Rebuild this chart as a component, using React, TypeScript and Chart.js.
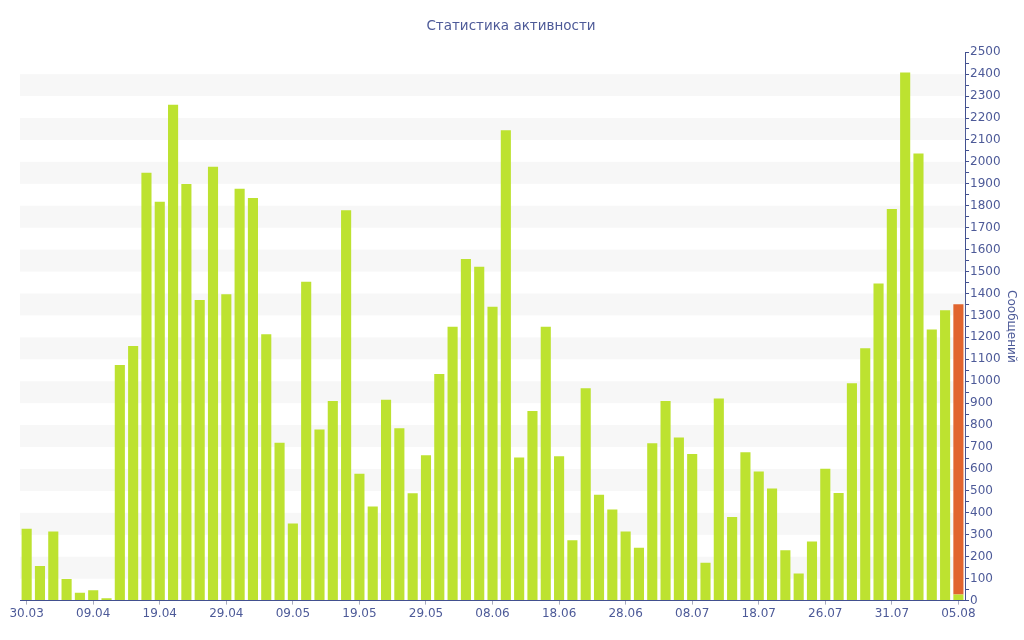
import React, { useEffect, useRef } from "react";
import { Chart, registerables } from "chart.js";

Chart.register(...registerables);

const tickLabels = [
  "30.03", "09.04", "19.04", "29.04", "09.05", "19.05", "29.05", "08.06",
  "18.06", "28.06", "08.07", "18.07", "26.07", "31.07", "05.08",
];

const greenValues = [
  327, 158, 315, 98, 36, 47, 11, 1074, 1161, 1951,
  1818, 2261, 1899, 1370, 1978, 1397, 1878, 1835, 1214, 720,
  351, 1454, 780, 910, 1780, 578, 429, 916, 786, 489,
  663, 1033, 1248, 1557, 1522, 1340, 2144, 652, 864, 1248,
  658, 275, 968, 483, 415, 315, 241, 717, 910, 744,
  668, 172, 921, 381, 676, 589, 511, 229, 123, 269,
  601, 491, 991, 1150, 1446, 1785, 2407, 2038, 1236, 1324,
  28,
];

const orangeLast = 1323;

const TEXT = "#4d5a98";
const AXIS = "#42508f";
const FONT = "'DejaVu Sans', Verdana, sans-serif";

const categories = greenValues.map((_, i) => (i % 5 === 0 ? tickLabels[i / 5] : ""));
const orangeValues = greenValues.map((_, i) => (i === greenValues.length - 1 ? orangeLast : null));

const bandPlugin = {
  id: "bands",
  beforeDatasetsDraw(chart: any) {
    const { ctx, chartArea, scales } = chart;
    const y = scales.y;
    ctx.save();
    ctx.fillStyle = "#f7f7f7";
    for (let v = 100; v < y.max; v += 200) {
      const top = y.getPixelForValue(Math.min(v + 100, y.max));
      const bot = y.getPixelForValue(v);
      ctx.fillRect(chartArea.left, top, chartArea.right - chartArea.left, bot - top);
    }
    ctx.restore();
  },
};

export default function App() {
  const ref = useRef<HTMLCanvasElement>(null);
  useEffect(() => {
    document.body.style.margin = "0";
    const chart = new Chart(ref.current!, {
      type: "bar",
      data: {
        labels: categories,
        datasets: [
          {
            label: "Сообщений",
            data: greenValues,
            backgroundColor: "#bde230",
            barPercentage: 0.76,
            categoryPercentage: 1,
          },
          {
            label: "Сегодня",
            data: orangeValues,
            backgroundColor: "#e1652f",
            barPercentage: 0.76,
            categoryPercentage: 1,
          },
        ],
      },
      options: {
        animation: false,
        responsive: true,
        maintainAspectRatio: false,
        layout: { padding: { left: 0, right: 2, bottom: 17, top: 0 } },
        plugins: {
          legend: { display: false },
          tooltip: { enabled: false },
          title: {
            display: true,
            text: "Статистика активности",
            color: TEXT,
            font: { family: FONT, size: 13.5, weight: "normal" },
            padding: { top: 18, bottom: 18 },
          },
        },
        scales: {
          x: {
            stacked: true,
            afterFit: (s: any) => {
              s.paddingLeft = 20;
            },
            grid: {
              display: true,
              drawOnChartArea: false,
              offset: false,
              tickLength: 4,
              tickColor: (c: any) => (c.index % 5 === 0 ? "#a8abbd" : "rgba(0,0,0,0)"),
            },
            border: { display: true, color: AXIS, width: 1 },
            ticks: {
              autoSkip: false,
              maxRotation: 0,
              color: TEXT,
              padding: 2,
              font: { family: FONT, size: 12 },
            },
          },
          y: {
            stacked: true,
            position: "right",
            min: 0,
            max: 2500,
            grid: {
              display: true,
              drawOnChartArea: false,
              tickLength: 4,
              tickColor: AXIS,
            },
            border: { display: true, color: AXIS, width: 1 },
            ticks: {
              stepSize: 50,
              autoSkip: false,
              color: TEXT,
              padding: 1,
              font: { family: FONT, size: 12 },
              callback: (v: any) => (Number(v) % 100 === 0 ? String(v) : ""),
            },
            title: {
              display: true,
              text: "Сообщений",
              color: TEXT,
              font: { family: FONT, size: 12 },
              padding: { top: 4, bottom: 2 },
            },
          },
        },
      },
      plugins: [bandPlugin],
    });
    return () => chart.destroy();
  }, []);
  return (
    <div style={{ position: "fixed", left: 0, top: 0, width: 1024, height: 640 }}>
      <canvas ref={ref} />
    </div>
  );
}
